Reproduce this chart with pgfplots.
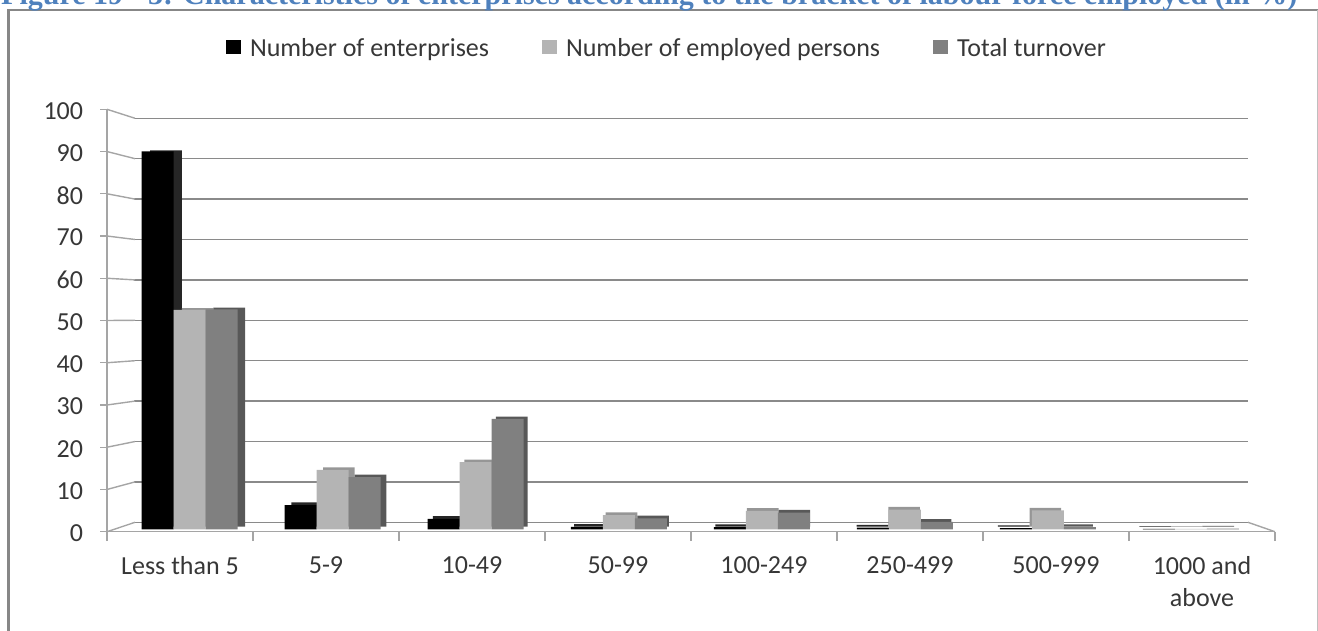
\documentclass[border=0pt]{standalone}
\usepackage{fontspec}
\setmainfont{Carlito}
\newfontfamily\titlefont{Liberation Serif}
\usepackage{pgfplots}
\pgfplotsset{compat=1.18}
\usepackage{pgfplotstable}

\definecolor{gridgray}{RGB}{138,138,138}
\definecolor{axisgray}{RGB}{165,165,165}
\definecolor{txt}{RGB}{55,55,55}
\definecolor{lgray}{RGB}{180,180,180}
\definecolor{dgray}{RGB}{128,128,128}
\definecolor{lgrayS}{RGB}{150,150,150}
\definecolor{dgrayS}{RGB}{88,88,88}
\definecolor{blackS}{RGB}{38,38,38}
\definecolor{titleblue}{RGB}{79,129,189}
\definecolor{framegray}{RGB}{135,135,135}

\newcommand\F{\fontsize{26}{32}\selectfont}

\pgfplotstableread{
x ent emp turn
0 90.4 52.5 52.6
1 5.8 14.2 12.5
2 2.5 16.1 26.4
3 0.6 3.4 2.6
4 0.5 4.4 4.0
5 0.4 4.7 1.8
6 0.3 4.5 0.5
7 0.1 0.1 0.15
}\datatable

\begin{document}
\begin{tikzpicture}
% frame
\draw[framegray, line width=2.5pt] (8.5pt,-5pt) -- (8.5pt,620pt) -- (1330pt,620pt);
\draw[black!25, line width=1pt] (1317pt,620pt) -- (1317pt,-5pt);
% title (cut off at top)
\node[anchor=base west, inner sep=0pt, text=titleblue, font=\titlefont\bfseries\fontsize{30}{34}\selectfont] at (1pt,625pt) {Figure 19 - 3: Characteristics of enterprises according to the bracket of labour force employed (in \%)};

% back wall with grid lines
\begin{axis}[at={(134pt,107.7pt)}, anchor=south west, scale only axis,
  width=1114pt, height=404pt, xmin=0, xmax=1, ymin=0, ymax=100,
  axis line style={draw=none}, xtick=\empty, ytick={0,10,...,100}, yticklabels={},
  major tick length=0pt, ymajorgrids, grid style={gridgray, line width=1.4pt}]
\addplot[draw=none] coordinates {(0,0) (1,100)};
\end{axis}

% front axis: ticks, labels, floor edges
\begin{axis}[at={(107pt,98.3pt)}, anchor=south west, scale only axis,
  width=1168pt, height=422.4pt, xmin=0, xmax=8, ymin=0, ymax=100, clip=false,
  axis x line*=bottom, axis y line*=left,
  axis line style={axisgray, line width=1.4pt, -},
  tick align=outside, major tick length=7pt, minor tick length=9.5pt,
  tick style={axisgray, line width=1.4pt},
  /pgf/number format/assume math mode=true,
  ytick={0,10,...,100},
  xtick={0.5,1.5,2.5,3.5,4.5,5.5,6.5,7.5},
  xticklabels={Less than 5,5-9,10-49,50-99,100-249,250-499,500-999,{1000 and\\above}},
  minor xtick={0,1,2,3,4,5,6,7,8},
  major x tick style={draw=none},
  ticklabel style={font=\F, text=txt, inner sep=0pt},
  yticklabel style={anchor=east, xshift=-16.7pt, yshift=-1.5pt},
  xticklabel style={anchor=north, align=center, yshift=-17.3pt}]
\addplot[axisgray, line width=1.4pt] coordinates {(0,0) (0.192,2.225)};
\addplot[axisgray, line width=1.4pt] coordinates {(0,10) (0.192,11.79)};
\addplot[axisgray, line width=1.4pt] coordinates {(0,20) (0.192,21.35)};
\addplot[axisgray, line width=1.4pt] coordinates {(0,30) (0.192,30.92)};
\addplot[axisgray, line width=1.4pt] coordinates {(0,40) (0.192,40.48)};
\addplot[axisgray, line width=1.4pt] coordinates {(0,50) (0.192,50.05)};
\addplot[axisgray, line width=1.4pt] coordinates {(0,60) (0.192,59.61)};
\addplot[axisgray, line width=1.4pt] coordinates {(0,70) (0.192,69.18)};
\addplot[axisgray, line width=1.4pt] coordinates {(0,80) (0.192,78.74)};
\addplot[axisgray, line width=1.4pt] coordinates {(0,90) (0.192,88.31)};
\addplot[axisgray, line width=1.4pt] coordinates {(0,100) (0.192,97.87)};
\addplot[axisgray, line width=1.4pt] coordinates {(8,0) (7.815,2.225)};
\end{axis}

% back faces of bars (3D depth)
\begin{axis}[at={(126.95pt,103.5pt)}, anchor=south west, scale only axis,
  width=1130.4pt, height=416pt, xmin=-0.5, xmax=7.5, ymin=0, ymax=100,
  hide axis, ybar=0pt, bar width=31.6pt]
\addplot[fill=blackS, draw=none] table[x=x,y=ent]{\datatable};
\addplot[fill=lgrayS, draw=none] table[x=x,y=emp]{\datatable};
\addplot[fill=dgrayS, draw=none] table[x=x,y=turn]{\datatable};
\end{axis}

% front faces of bars
\begin{axis}[at={(118.1pt,100.7pt)}, anchor=south west, scale only axis,
  width=1144.5pt, height=418pt, xmin=-0.5, xmax=7.5, ymin=0, ymax=100,
  hide axis, ybar=0pt, bar width=32pt,
  legend columns=3,
  legend image code/.code={\fill[#1] (0pt,-6pt) rectangle (15pt,8pt);},
  legend style={at={(0.0943,1.1514)}, anchor=west, draw=none, fill=none,
    inner sep=0pt, outer sep=0pt, font=\F, text=txt, nodes={inner sep=0pt},
    /tikz/every odd column/.append style={column sep=9pt},
    /tikz/every even column/.append style={column sep=53pt}}]
\addplot[fill=black, draw=none] table[x=x,y=ent]{\datatable};
\addlegendentry{Number of enterprises}
\addplot[fill=lgray, draw=none] table[x=x,y=emp]{\datatable};
\addlegendentry{Number of employed persons}
\addplot[fill=dgray, draw=none] table[x=x,y=turn]{\datatable};
\addlegendentry{Total turnover}
\end{axis}

\pgfresetboundingbox
\path[use as bounding box] (0pt,0pt) rectangle (1318pt,630pt);
\end{tikzpicture}
\end{document}
